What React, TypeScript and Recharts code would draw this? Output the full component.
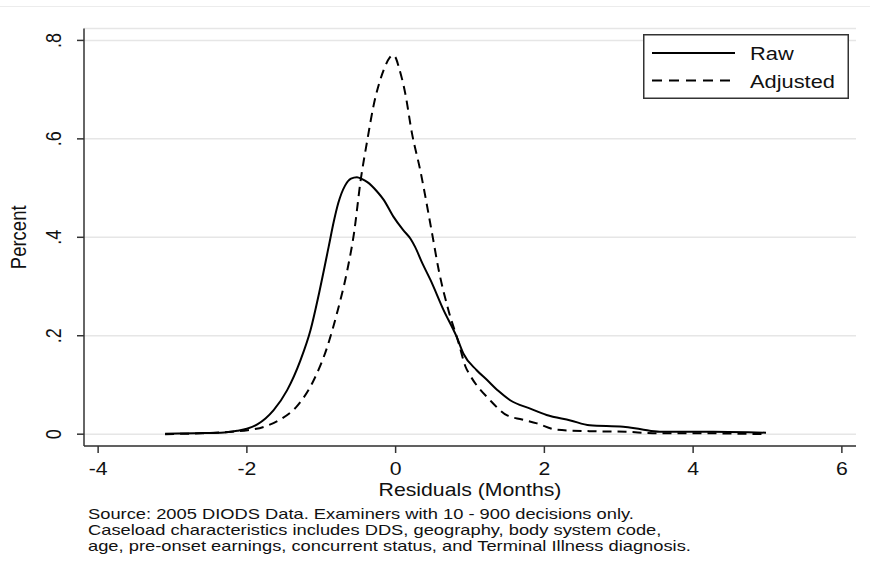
import { LineChart, Line, XAxis, YAxis, CartesianGrid, Legend } from "recharts";

// kernel density of residuals
const rawX = [-3.1, -2.7, -2.35, -2.13, -2.0, -1.86, -1.75, -1.64, -1.46, -1.28, -1.145, -1.03, -0.9, -0.83, -0.77, -0.68, -0.6, -0.52, -0.45, -0.38, -0.25, -0.16, -0.03, 0.1, 0.2, 0.26, 0.36, 0.47, 0.645, 0.82, 0.91, 1.09, 1.23, 1.38, 1.54, 1.81, 2.03, 2.35, 2.61, 3.06, 3.3, 3.55, 4.27, 4.98];
const rawY = [0.001, 0.002, 0.003, 0.007, 0.011, 0.02, 0.032, 0.049, 0.089, 0.15, 0.211, 0.286, 0.381, 0.433, 0.47, 0.505, 0.519, 0.522, 0.518, 0.512, 0.493, 0.476, 0.442, 0.415, 0.397, 0.381, 0.347, 0.313, 0.252, 0.198, 0.164, 0.13, 0.11, 0.088, 0.069, 0.052, 0.039, 0.028, 0.018, 0.015, 0.01, 0.005, 0.005, 0.003];

const adjX = [-3.1, -2.6, -2.2, -1.99, -1.77, -1.55, -1.32, -1.1, -0.92, -0.79, -0.65, -0.56, -0.47, -0.38, -0.3, -0.16, -0.08, -0.04, 0.0, 0.04, 0.13, 0.22, 0.33, 0.49, 0.58, 0.71, 0.85, 0.94, 1.0, 1.27, 1.5, 1.7, 1.9, 2.17, 2.66, 3.1, 3.46, 4.0, 4.98];
const adjY = [0.0, 0.002, 0.005, 0.008, 0.015, 0.03, 0.058, 0.11, 0.177, 0.245, 0.333, 0.408, 0.516, 0.598, 0.665, 0.74, 0.765, 0.77, 0.765, 0.747, 0.692, 0.611, 0.537, 0.408, 0.333, 0.252, 0.184, 0.137, 0.12, 0.069, 0.038, 0.03, 0.022, 0.009, 0.006, 0.005, 0.002, 0.002, 0.0];

const seriesNames = ["Raw", "Adjusted"];
const xTicks = [-4, -2, 0, 2, 4, 6];
const yTicks = [0, 0.2, 0.4, 0.6, 0.8];
const notes = [
  "Source: 2005 DIODS Data. Examiners with 10 - 900 decisions only.",
  "Caseload characteristics includes DDS, geography, body system code,",
  "age, pre-onset earnings, concurrent status, and Terminal Illness diagnosis.",
];

const rawData = rawX.map((x, i) => ({ x, y: rawY[i] }));
const adjData = adjX.map((x, i) => ({ x, y: adjY[i] }));

const FONT = "'Liberation Sans', Arial, Helvetica, sans-serif";
const SX = 1.18; // the original export is stretched sideways
const DASH = "9 6";

const fmtY = (v: number) => (v === 0 ? "0" : v.toFixed(1).replace(/^0/, ""));

function XTick(props: any) {
  const { x, y, payload } = props;
  return (
    <text transform={`translate(${x},${y + 14}) scale(${SX},1)`} textAnchor="middle" dominantBaseline="central" fontSize={18} fontFamily={FONT} fill="#111">
      {payload.value}
    </text>
  );
}

function YTick(props: any) {
  const { x, y, payload } = props;
  return (
    <text transform={`translate(${x - 21.5},${y}) scale(${SX},1) rotate(-90)`} textAnchor="middle" dominantBaseline="central" fontSize={18} fontFamily={FONT} fill="#111">
      {fmtY(payload.value)}
    </text>
  );
}

function LegendBox({ payload }: any) {
  const items = [...(payload || [])].sort((a: any, b: any) => seriesNames.indexOf(a.value) - seriesNames.indexOf(b.value));
  return (
    <svg width={206} height={65} style={{ display: "block" }}>
      <rect x={0.75} y={0.75} width={204.5} height={63.5} fill="#fff" stroke="#333" strokeWidth={1.5} />
      {items.map((it: any, i: number) => {
        const cy = 19 + i * 27.5;
        return (
          <g key={it.value}>
            <line x1={9} x2={92} y1={cy} y2={cy} stroke="#000" strokeWidth={2} strokeDasharray={it.payload?.strokeDasharray ? "10 7" : undefined} />
            <text transform={`translate(107,${cy + 1}) scale(${SX},1)`} dominantBaseline="central" fontSize={18.5} fontFamily={FONT} fill="#111">
              {it.value}
            </text>
          </g>
        );
      })}
    </svg>
  );
}

export default function App() {
  return (
    <div style={{ position: "absolute", left: 0, top: 0, width: 870, height: 575, background: "#fff", fontFamily: FONT }}>
      <div style={{ position: "absolute", left: 0, top: 6, width: 870, height: 1, background: "#ececec" }} />
      <LineChart width={870} height={575} margin={{ top: 28.6, right: 14, bottom: 89, left: 0 }}>
        <CartesianGrid vertical={false} stroke="#e6e6e6" strokeWidth={1.5} />
        <XAxis
          type="number"
          dataKey="x"
          domain={[-4.19, 6.19]}
          ticks={xTicks}
          allowDataOverflow
          height={40}
          tickSize={7}
          stroke="#333"
          strokeWidth={1.5}
          tick={<XTick />}
          label={{
            content: (p: any) => (
              <text transform={`translate(${p.viewBox.x + p.viewBox.width / 2},${p.viewBox.y + 44}) scale(${SX},1)`} textAnchor="middle" dominantBaseline="central" fontSize={18} fontFamily={FONT} fill="#111">
                Residuals (Months)
              </text>
            ),
          }}
        />
        <YAxis
          type="number"
          domain={[-0.024, 0.824]}
          ticks={yTicks}
          allowDataOverflow
          width={84}
          tickSize={7}
          stroke="#333"
          strokeWidth={1.5}
          tick={<YTick />}
          label={{
            content: (p: any) => (
              <text transform={`translate(18,${p.viewBox.y + p.viewBox.height / 2}) scale(${SX},1) rotate(-90)`} textAnchor="middle" dominantBaseline="central" fontSize={18.5} fontFamily={FONT} fill="#111">
                Percent
              </text>
            ),
          }}
        />
        <Legend
          layout="vertical"
          align="center"
          verticalAlign="middle"
          content={<LegendBox />}
          wrapperStyle={{ position: "absolute", left: 642.5, top: 34, width: 206, height: 65 }}
        />
        <Line data={rawData} dataKey="y" name="Raw" type="monotone" stroke="#000" strokeWidth={2} dot={false} isAnimationActive={false} />
        <Line data={adjData} dataKey="y" name="Adjusted" type="monotone" stroke="#000" strokeWidth={2} strokeDasharray={DASH} dot={false} isAnimationActive={false} />
      </LineChart>
      <div style={{ position: "absolute", left: 88, top: 506, fontSize: 15, lineHeight: "16px", color: "#111" }}>
        {notes.map((n) => (
          <div key={n} style={{ whiteSpace: "nowrap", transform: "scaleX(1.22)", transformOrigin: "left center" }}>
            {n}
          </div>
        ))}
      </div>
    </div>
  );
}
